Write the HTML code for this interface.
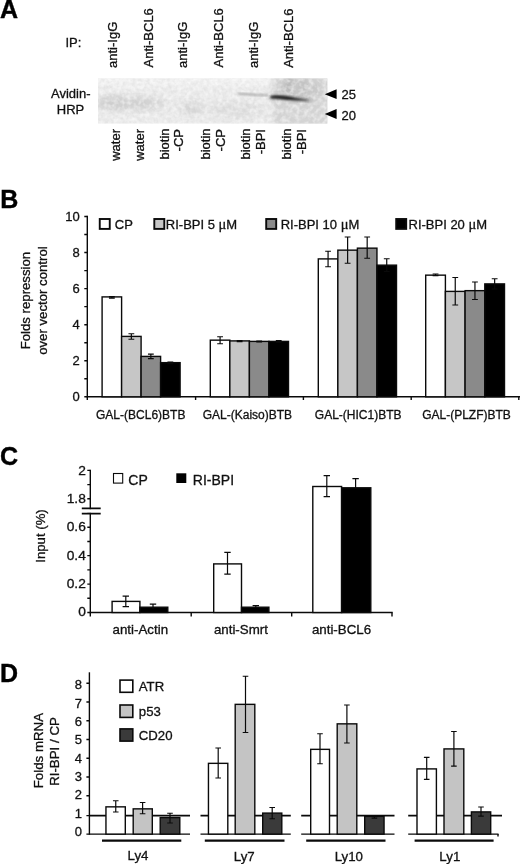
<!DOCTYPE html>
<html>
<head>
<meta charset="utf-8">
<title>Figure</title>
<style>
html,body{margin:0;padding:0;background:#fff;}
body{width:520px;height:864px;overflow:hidden;}
svg{display:block;opacity:0.999;}
text{font-family:"Liberation Sans",sans-serif;fill:#111;stroke:#111;stroke-width:0.3px;}
.pl{font-weight:bold;fill:#000;stroke:#000;stroke-width:0.4;}
.ax{stroke:#0a0a0a;stroke-width:1.4;fill:none;}
.bx{stroke:#0a0a0a;stroke-width:1.4;}
.eb{stroke:#0a0a0a;stroke-width:1.2;fill:none;}
</style>
</head>
<body>
<svg width="520" height="864" viewBox="0 0 520 864">
<defs>
<filter id="bl1" x="-20%" y="-200%" width="140%" height="500%"><feGaussianBlur stdDeviation="1.6 0.8"/></filter>
<filter id="bl05" x="-5%" y="-10%" width="110%" height="120%"><feGaussianBlur stdDeviation="0.6"/></filter>
<filter id="bl07" x="-10%" y="-60%" width="120%" height="220%"><feGaussianBlur stdDeviation="0.9"/></filter>
<filter id="bl06" x="-10%" y="-100%" width="120%" height="300%"><feGaussianBlur stdDeviation="1.0 0.85"/></filter>
<filter id="bl2" x="-30%" y="-50%" width="160%" height="200%"><feGaussianBlur stdDeviation="2"/></filter>
<filter id="bl3" x="-30%" y="-30%" width="160%" height="160%"><feGaussianBlur stdDeviation="4"/></filter>
<filter id="bl25" x="-30%" y="-30%" width="160%" height="160%"><feGaussianBlur stdDeviation="2.5"/></filter>
<filter id="noisew" x="0" y="0" width="100%" height="100%"><feTurbulence type="fractalNoise" baseFrequency="0.22" numOctaves="2" seed="11" result="t"/><feColorMatrix in="t" type="matrix" values="0 0 0 0 1  0 0 0 0 1  0 0 0 0 1  0 2.4 0 0 -0.9"/></filter>
<filter id="noise" x="0" y="0" width="100%" height="100%"><feTurbulence type="fractalNoise" baseFrequency="0.28" numOctaves="2" seed="7" result="t"/><feColorMatrix in="t" type="matrix" values="0 0 0 0 0.6  0 0 0 0 0.6  0 0 0 0 0.6  2.2 0 0 0 -0.75"/></filter>
<clipPath id="blotclip"><rect x="98" y="78.500" width="229.300" height="45"/></clipPath>
</defs>
<rect x="0" y="0" width="520" height="864" fill="#fff"/>

<g id="panelA">
<text class="pl" transform="translate(0,18)" font-size="25">A</text>
<text transform="translate(65.5,47.1)" font-size="13">IP:</text>
<text transform="translate(117,68) rotate(-90)" font-size="13">anti-IgG</text>
<text transform="translate(152.5,67.4) rotate(-90)" font-size="13">Anti-BCL6</text>
<text transform="translate(187,68) rotate(-90)" font-size="13">anti-IgG</text>
<text transform="translate(222.5,67.4) rotate(-90)" font-size="13">Anti-BCL6</text>
<text transform="translate(257.7,68) rotate(-90)" font-size="13">anti-IgG</text>
<text transform="translate(292.7,67.8) rotate(-90)" font-size="13">Anti-BCL6</text>
<text transform="translate(51,98.4)" font-size="13">Avidin-</text>
<text transform="translate(56.8,114)" font-size="13">HRP</text>
<rect x="98" y="78.500" width="229.300" height="45" fill="#ececec" filter="url(#bl05)"/>
<g clip-path="url(#blotclip)">
<rect x="96" y="77" width="176" height="9" fill="#f3f3f3" filter="url(#bl2)"/>
<ellipse cx="130" cy="103.500" rx="36" ry="6.500" fill="#cecece" filter="url(#bl3)"/>
<ellipse cx="112" cy="102" rx="12" ry="5" fill="#cdcdcd" filter="url(#bl3)"/>
<ellipse cx="192" cy="108" rx="12" ry="6" fill="#d0d0d0" filter="url(#bl3)"/>
<ellipse cx="236" cy="110" rx="28" ry="7" fill="#dcdcdc" filter="url(#bl3)"/>
<rect x="273" y="74" width="60" height="54" fill="#d5d5d5" filter="url(#bl2)"/>
<ellipse cx="298" cy="90" rx="24" ry="10" fill="#c6c6c6" filter="url(#bl3)"/>
<rect x="286" y="78" width="7" height="14" fill="#b8b8b8" filter="url(#bl2)"/>
<rect x="300" y="78" width="6" height="12" fill="#c0c0c0" filter="url(#bl2)"/>
<rect x="98" y="78.500" width="230" height="45" filter="url(#noise)" opacity="0.300"/>
<rect x="98" y="78.500" width="230" height="45" filter="url(#noisew)" opacity="0.500"/>
<path d="M238 93.800 L268 95.300" stroke="#9a9a9a" stroke-width="1.600" fill="none" filter="url(#bl07)"/>
<path d="M268 97.500 Q290 96.500 312 101" stroke="#707070" stroke-width="3" fill="none" filter="url(#bl2)" opacity="0.450"/>
<path d="M270.500 95.700 Q280 94.500 292 97.100 T308.500 99.900 L308.500 100.800 Q296 100.700 286 99.700 T270.500 98.600 Z" fill="#222" filter="url(#bl06)"/>
</g>
<path d="M324.800 94.200 L336.600 89.300 L336.600 99.100 Z" fill="#000"/>
<path d="M324.800 114 L336.600 109.100 L336.600 118.900 Z" fill="#000"/>
<text transform="translate(341.4,98.8)" font-size="13">25</text>
<text transform="translate(341.4,120)" font-size="13">20</text>
<text transform="translate(119.5,129) rotate(-90)" font-size="13" text-anchor="end">water</text>
<text transform="translate(143.8,129) rotate(-90)" font-size="13" text-anchor="end">water</text>
<text transform="translate(168.8,128.5) rotate(-90)" font-size="13" text-anchor="end">biotin</text>
<text transform="translate(183,129) rotate(-90)" font-size="13" text-anchor="end">-CP</text>
<text transform="translate(209.5,128.5) rotate(-90)" font-size="13" text-anchor="end">biotin</text>
<text transform="translate(224.5,129) rotate(-90)" font-size="13" text-anchor="end">-CP</text>
<text transform="translate(250,128.5) rotate(-90)" font-size="13" text-anchor="end">biotin</text>
<text transform="translate(265,129) rotate(-90)" font-size="13" text-anchor="end">-BPI</text>
<text transform="translate(291.3,128.5) rotate(-90)" font-size="13" text-anchor="end">biotin</text>
<text transform="translate(306.3,129) rotate(-90)" font-size="13" text-anchor="end">-BPI</text>
</g>

<g id="panelB">
<text class="pl" transform="translate(0.3,208)" font-size="25">B</text>
<text transform="translate(30.3,300.6) rotate(-90)" font-size="13.2" text-anchor="middle">Folds repression</text>
<text transform="translate(46.5,300.6) rotate(-90)" font-size="13.2" text-anchor="middle">over vector control</text>
<path class="ax" d="M87.3 215.8 V396.8 M86.6 396.8 H520"/>
<path class="ax" d="M84.3 396.8 H87.3 M84.3 378.77 H87.3 M84.3 360.74 H87.3 M84.3 342.71 H87.3 M84.3 324.68 H87.3 M84.3 306.65 H87.3 M84.3 288.62 H87.3 M84.3 270.59 H87.3 M84.3 252.56 H87.3 M84.3 234.53 H87.3 M84.3 216.5 H87.3"/>
<path class="ax" d="M87.3 396.8 V400 M195.6 396.8 V400 M303.4 396.8 V400 M411.2 396.8 V400 M518.8 396.8 V400"/>
<text transform="translate(79.7,220.6)" font-size="13" text-anchor="end">10</text>
<text transform="translate(79.7,256.66)" font-size="13" text-anchor="end">8</text>
<text transform="translate(79.7,292.72)" font-size="13" text-anchor="end">6</text>
<text transform="translate(79.7,328.78)" font-size="13" text-anchor="end">4</text>
<text transform="translate(79.7,364.84)" font-size="13" text-anchor="end">2</text>
<text transform="translate(79.7,400.9)" font-size="13" text-anchor="end">0</text>
<g class="bx" style="stroke-width:1.9px">
<rect x="99.75" y="219" width="10" height="9.900" fill="#fff"/>
<rect x="154.3" y="219" width="10" height="9.900" fill="#c6c6c6"/>
<rect x="266.2" y="219" width="10" height="9.900" fill="#8a8a8a"/>
<rect x="396.2" y="219" width="10" height="9.900" fill="#000"/>
</g>
<text transform="translate(114.8,229.3)" font-size="13">CP</text>
<text transform="translate(165.8,229.3)" font-size="13">RI-BPI 5 <tspan style="font-family:'Liberation Serif',serif;font-size:14.5px">μ</tspan>M</text>
<text transform="translate(280.7,229.3)" font-size="13">RI-BPI 10 <tspan style="font-family:'Liberation Serif',serif;font-size:14.5px">μ</tspan>M</text>
<text transform="translate(408.5,229.3)" font-size="13">RI-BPI 20 <tspan style="font-family:'Liberation Serif',serif;font-size:14.5px">μ</tspan>M</text>
<g class="bx">
<rect x="102.1" y="296.9" width="19.5" height="99.9" fill="#fff"/>
<rect x="121.6" y="336.4" width="19.5" height="60.4" fill="#c6c6c6"/>
<rect x="141.1" y="356.4" width="19.5" height="40.4" fill="#8a8a8a"/>
<rect x="160.6" y="362.65" width="19.5" height="34.15" fill="#000"/>
<rect x="210.3" y="340.15" width="19.55" height="56.65" fill="#fff"/>
<rect x="229.85" y="340.9" width="19.55" height="55.9" fill="#c6c6c6"/>
<rect x="249.4" y="341.4" width="19.55" height="55.4" fill="#8a8a8a"/>
<rect x="268.95" y="341.4" width="19.55" height="55.4" fill="#000"/>
<rect x="318.3" y="258.9" width="19.55" height="137.9" fill="#fff"/>
<rect x="337.85" y="250.15" width="19.55" height="146.65" fill="#c6c6c6"/>
<rect x="357.4" y="248.15" width="19.55" height="148.65" fill="#8a8a8a"/>
<rect x="376.95" y="265.15" width="19.55" height="131.65" fill="#000"/>
<rect x="425.7" y="275.15" width="19.7" height="121.65" fill="#fff"/>
<rect x="445.4" y="291.4" width="19.7" height="105.4" fill="#c6c6c6"/>
<rect x="465.1" y="290.65" width="19.7" height="106.15" fill="#8a8a8a"/>
<rect x="484.8" y="283.9" width="19.7" height="112.9" fill="#000"/>
</g>
<path class="eb" d="M111.85 296.6 V298.2 M108.95 296.6 H114.75 M108.95 298.2 H114.75 M131.35 333.75 V339.25 M128.45 333.75 H134.25 M128.45 339.25 H134.25 M150.85 354.2 V358.6 M147.95 354.2 H153.75 M147.95 358.6 H153.75 M170.35 362 V363.6 M167.45 362 H173.25 M167.45 363.6 H173.25 M220.08 336.75 V343.75 M217.18 336.75 H222.98 M217.18 343.75 H222.98 M239.63 340.6 V341.6 M236.73 340.6 H242.53 M236.73 341.6 H242.53 M259.18 341.2 V342 M256.28 341.2 H262.07 M256.28 342 H262.07 M278.73 340.6 V342.2 M275.83 340.6 H281.62 M275.83 342.2 H281.62 M328.07 251.25 V266.75 M325.18 251.25 H330.97 M325.18 266.75 H330.97 M347.62 237 V263.25 M344.73 237 H350.52 M344.73 263.25 H350.52 M367.18 237 V258.25 M364.28 237 H370.07 M364.28 258.25 H370.07 M386.73 258.75 V271.5 M383.83 258.75 H389.62 M383.83 271.5 H389.62 M435.55 274 V275.6 M432.65 274 H438.45 M432.65 275.6 H438.45 M455.25 277.5 V305 M452.35 277.5 H458.15 M452.35 305 H458.15 M474.95 282 V299.5 M472.05 282 H477.85 M472.05 299.5 H477.85 M494.65 278.75 V289 M491.75 278.75 H497.55 M491.75 289 H497.55"/>
<text transform="translate(140.7,418.7)" font-size="12" text-anchor="middle">GAL-(BCL6)BTB</text>
<text transform="translate(247.4,418.7)" font-size="12" text-anchor="middle">GAL-(Kaiso)BTB</text>
<text transform="translate(358.2,418.7)" font-size="12" text-anchor="middle">GAL-(HIC1)BTB</text>
<text transform="translate(466.5,418.7)" font-size="12" text-anchor="middle">GAL-(PLZF)BTB</text>
</g>

<g id="panelC">
<text class="pl" transform="translate(0,465.4)" font-size="25">C</text>
<text transform="translate(45.3,536) rotate(-90)" font-size="13.2" text-anchor="middle">Input (%)</text>
<path class="ax" d="M90.3 469.7 V612.5 M89.6 612.5 H392.700"/>
<path class="ax" d="M87.3 612.5 H90.3 M87.3 598.29 H90.3 M87.3 584.08 H90.3 M87.3 569.87 H90.3 M87.3 555.66 H90.3 M87.3 541.45 H90.3 M87.3 527.24 H90.3 M87.3 513.03 H90.3 M87.3 498.82 H90.3 M87.3 484.61 H90.3 M87.3 470.4 H90.3"/>
<path class="ax" d="M90.3 612.5 V616.5 M191.2 612.5 V616.5 M291.7 612.5 V616.5 M392 612.5 V616.5"/>
<rect x="81" y="509.200" width="21" height="3.600" fill="#fff"/>
<path class="ax" style="stroke-width:1.8px" d="M81.800 508.300 H100.700 M81.800 513.700 H100.700"/>
<text transform="translate(85.8,616.1) scale(1.060,1)" font-size="13" text-anchor="end">0</text>
<text transform="translate(85.8,588.28) scale(1.060,1)" font-size="13" text-anchor="end">0.2</text>
<text transform="translate(85.8,559.86) scale(1.060,1)" font-size="13" text-anchor="end">0.4</text>
<text transform="translate(85.8,531.44) scale(1.060,1)" font-size="13" text-anchor="end">0.6</text>
<text transform="translate(85.8,503.02) scale(1.060,1)" font-size="13" text-anchor="end">1.8</text>
<text transform="translate(85.8,474.6) scale(1.060,1)" font-size="13" text-anchor="end">2</text>
<rect x="113.500" y="473.500" width="9.200" height="9.600" fill="#fff" stroke="#0a0a0a" stroke-width="1.100"/>
<rect x="176.300" y="473.300" width="10" height="9.700" fill="#000"/>
<text transform="translate(128.3,485)" font-size="14">CP</text>
<text transform="translate(192.8,485)" font-size="14">RI-BPI</text>
<g class="bx">
<rect x="112.1" y="601.4" width="27.8" height="11.1" fill="#fff"/>
<rect x="139.9" y="607.2" width="27.9" height="5.3" fill="#000"/>
<rect x="213.7" y="563.9" width="27.8" height="48.6" fill="#fff"/>
<rect x="241.5" y="607.2" width="27.4" height="5.3" fill="#000"/>
<rect x="312.8" y="486.5" width="28.8" height="126" fill="#fff"/>
<rect x="341.6" y="487.8" width="29.2" height="124.7" fill="#000"/>
</g>
<path class="eb" d="M125.8 596.2 V606.7 M122.6 596.2 H129 M122.6 606.7 H129 M153 604.2 V609 M149.8 604.2 H156.2 M227.5 552.4 V574.2 M224.3 552.4 H230.7 M224.3 574.2 H230.7 M255.8 605.6 V608 M252.6 605.6 H259 M326.8 475.7 V496.7 M323.6 475.7 H330 M323.6 496.7 H330 M355.6 478.7 V489 M352.4 478.7 H358.8"/>
<text transform="translate(140.3,634) scale(1.065,1)" font-size="12.5" text-anchor="middle">anti-Actin</text>
<text transform="translate(240.9,634) scale(1.065,1)" font-size="12.5" text-anchor="middle">anti-Smrt</text>
<text transform="translate(341.5,634) scale(1.065,1)" font-size="12.5" text-anchor="middle">anti-BCL6</text>
</g>

<g id="panelD">
<text class="pl" transform="translate(0,681.8)" font-size="25">D</text>
<text transform="translate(42.5,750.6) rotate(-90)" font-size="13.3" text-anchor="middle">Folds mRNA</text>
<text transform="translate(59.4,751.5) rotate(-90)" font-size="13.3" text-anchor="middle">RI-BPI / CP</text>
<path class="ax" d="M89.4 672.300 V834.8"/>
<path class="ax" d="M86.4 834.1 H89.4 M86.4 815.6 H89.4 M86.4 795.8 H89.4 M86.4 777.05 H89.4 M86.4 758.3 H89.4 M86.4 739.55 H89.4 M86.4 720.8 H89.4 M86.4 702.05 H89.4 M86.4 683.3 H89.4"/>
<text transform="translate(82,835.9)" font-size="13" text-anchor="end">0</text>
<text transform="translate(82,817.57)" font-size="13" text-anchor="end">1</text>
<text transform="translate(82,799.24)" font-size="13" text-anchor="end">2</text>
<text transform="translate(82,780.91)" font-size="13" text-anchor="end">3</text>
<text transform="translate(82,762.58)" font-size="13" text-anchor="end">4</text>
<text transform="translate(82,744.25)" font-size="13" text-anchor="end">5</text>
<text transform="translate(82,725.92)" font-size="13" text-anchor="end">6</text>
<text transform="translate(82,707.59)" font-size="13" text-anchor="end">7</text>
<text transform="translate(82,689.26)" font-size="13" text-anchor="end">8</text>
<path class="ax" d="M89.4 834.1 H190 M200.5 834.1 H290.8 M301.2 834.1 H394.5 M408.2 834.1 H498.5"/>
<path class="ax" d="M498 834.1 V836.6"/>
<path class="ax" style="stroke-width:1.6px" d="M89.4 815.600 H190 M200.5 815.600 H290.8 M301.2 815.600 H394.5 M408.2 815.600 H502"/>
<path class="ax" style="stroke-width:2.1px" d="M102 840.600 H181.3 M204.8 840.600 H284.5 M306.2 840.600 H385.5 M414.6 840.600 H493.6"/>
<g class="bx" style="stroke-width:1.6px">
<rect x="120" y="680.1" width="12.800" height="12.2" fill="#fff"/>
<rect x="120" y="705" width="12.800" height="12.4" fill="#c4c4c4"/>
<rect x="120" y="728.9" width="12.800" height="12.2" fill="#3a3a3a"/>
</g>
<text transform="translate(138.8,691.4)" font-size="13.2">ATR</text>
<text transform="translate(138.8,715.8)" font-size="13.2">p53</text>
<text transform="translate(138.8,740.1)" font-size="13.2">CD20</text>
<g class="bx">
<rect x="105.95" y="806.85" width="19.35" height="27.25" fill="#fff"/>
<rect x="133.2" y="808.85" width="19.1" height="25.25" fill="#c4c4c4"/>
<rect x="160.2" y="817.6" width="19.6" height="16.5" fill="#3a3a3a"/>
<rect x="208.45" y="763.35" width="19.35" height="70.75" fill="#fff"/>
<rect x="235.2" y="704.35" width="19.6" height="129.75" fill="#c4c4c4"/>
<rect x="262.7" y="813.1" width="19.1" height="21" fill="#3a3a3a"/>
<rect x="310.7" y="749.35" width="18.8" height="84.75" fill="#fff"/>
<rect x="337.2" y="723.85" width="19.6" height="110.25" fill="#c4c4c4"/>
<rect x="364.7" y="816.35" width="19.35" height="17.75" fill="#3a3a3a"/>
<rect x="417" y="768.9" width="19.4" height="65.2" fill="#fff"/>
<rect x="444" y="748.9" width="19.8" height="85.2" fill="#c4c4c4"/>
<rect x="471.4" y="811.9" width="19.3" height="22.2" fill="#3a3a3a"/>
</g>
<path class="eb" d="M115.75 800.75 V812 M112.95 800.75 H118.55 M112.95 812 H118.55 M142.6 802.5 V813.75 M139.8 802.5 H145.4 M139.8 813.75 H145.4 M170 813.25 V823 M167.2 813.25 H172.8 M167.2 823 H172.8 M218.2 748 V778 M215.4 748 H221 M215.4 778 H221 M245.5 676.25 V732.5 M242.7 676.25 H248.3 M242.7 732.5 H248.3 M272.2 807.5 V818.75 M269.4 807.5 H275 M269.4 818.75 H275 M320 733.75 V763.75 M317.2 733.75 H322.8 M317.2 763.75 H322.8 M346.9 705 V743 M344.1 705 H349.7 M344.1 743 H349.7 M374.4 815.6 V818.2 M371.6 815.6 H377.2 M371.6 818.2 H377.2 M426.7 757.3 V779.4 M423.9 757.3 H429.5 M423.9 779.4 H429.5 M453.9 731.5 V766.2 M451.1 731.5 H456.7 M451.1 766.2 H456.7 M481 807 V816.2 M478.2 807 H483.8 M478.2 816.2 H483.8"/>
<text transform="translate(138,860.2)" font-size="13.3" text-anchor="middle">Ly4</text>
<text transform="translate(244.2,860.5)" font-size="13.3" text-anchor="middle">Ly7</text>
<text transform="translate(348.8,860.8)" font-size="13.3" text-anchor="middle">Ly10</text>
<text transform="translate(449.8,860.9)" font-size="13.3" text-anchor="middle">Ly1</text>
</g>
</svg>
</body>
</html>
